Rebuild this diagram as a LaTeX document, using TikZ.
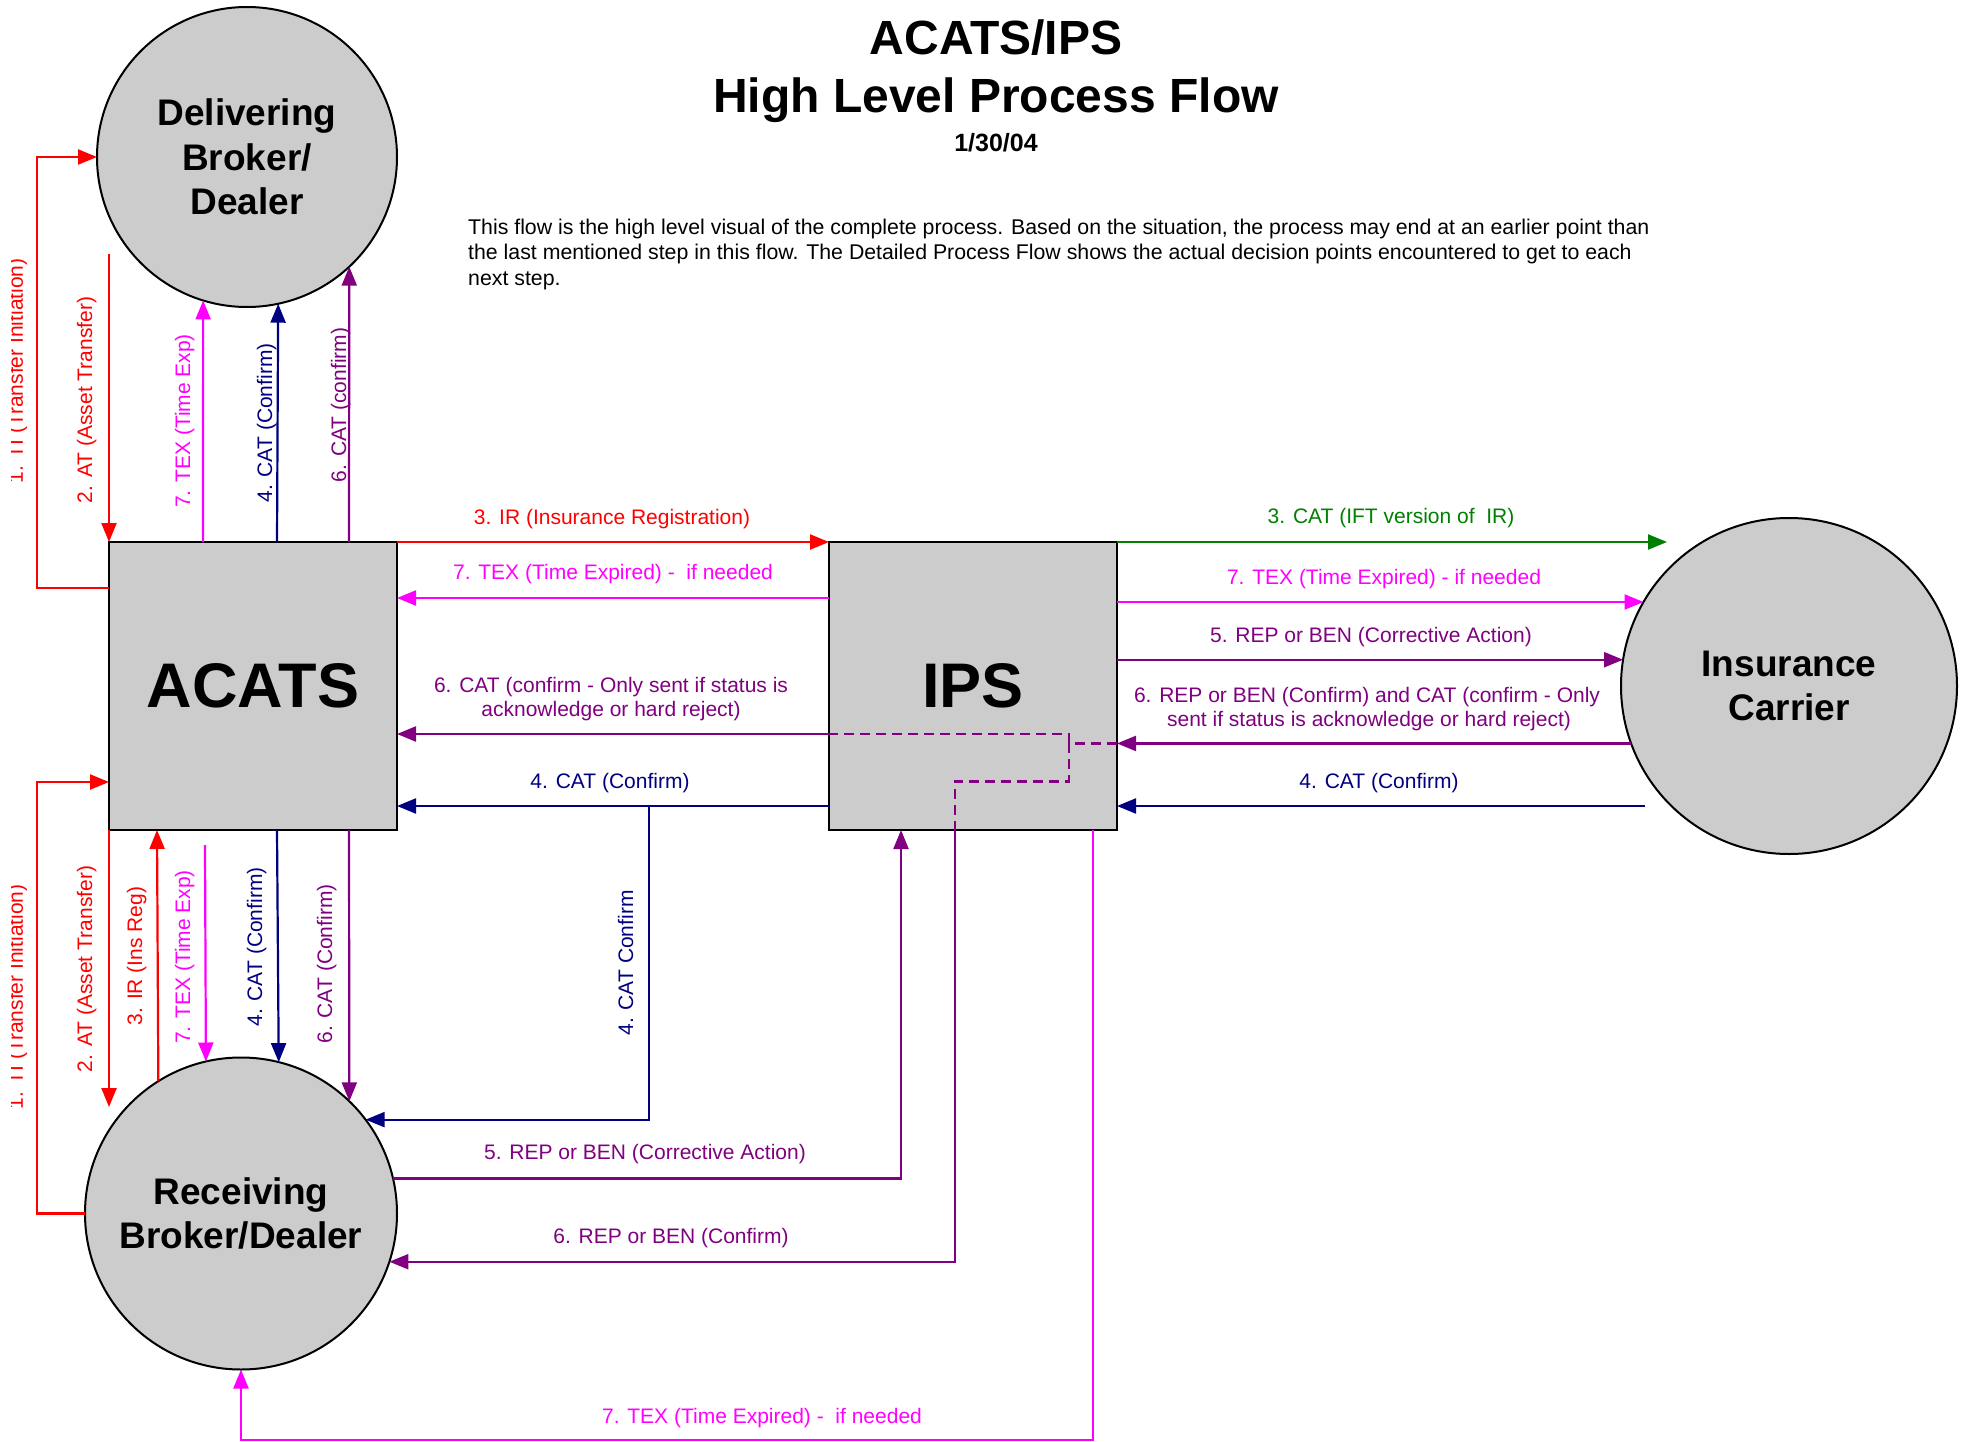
\documentclass[tikz,border=0pt]{standalone}
\usepackage{fontspec}
\setmainfont{Liberation Sans}
\usetikzlibrary{arrows.meta}
\definecolor{navyc}{RGB}{0,0,128}
\definecolor{purpc}{RGB}{128,0,128}
\definecolor{greenc}{RGB}{0,128,0}
\definecolor{magc}{RGB}{255,0,255}
\definecolor{redc}{RGB}{255,0,0}
\definecolor{boxgray}{RGB}{204,204,204}
\begin{document}
\begin{tikzpicture}[x=1pt,y=-1pt,
  conn/.style={line width=2.2pt, -{Triangle[length=19pt,width=15pt]}},
  dashline/.style={line width=2.2pt, dash pattern=on 10pt off 6pt},
  lbl/.style={font=\fontsize{21}{25}\selectfont, inner sep=0pt, anchor=base},
  vlbl/.style={lbl, rotate=90},
  sysbox/.style={draw=black, line width=2.5pt, fill=boxgray, minimum width=288pt, minimum height=288pt, inner sep=0pt, outer sep=0pt, font=\bfseries\fontsize{63}{66}\selectfont},
  party/.style={circle, draw=black, line width=2pt, fill=boxgray, inner sep=0pt, outer sep=0pt, align=center, font=\bfseries\fontsize{37}{44.5}\selectfont},
  titlefont/.style={font=\bfseries\fontsize{48}{50}\selectfont, inner sep=0pt, anchor=base},
  parafont/.style={font=\fontsize{21.3}{25}\selectfont, inner sep=0pt, anchor=base west},
]
\useasboundingbox[fill=white] (0,0) rectangle (1963,1442);

% title
\node[titlefont] (t1) at (996,55) {ACATS/IPS};
\node[titlefont] (t2) at (996,113) {High Level Process Flow};
\node[font=\bfseries\fontsize{25}{27}\selectfont, inner sep=0pt, anchor=base] (t3) at (996,152) {1/30/04};
\node[parafont] (p1) at (468,235) {This flow is the high level visual of the complete process.  Based on the situation, the process may end at an earlier point than};
\node[parafont] (p2) at (468,260) {the last mentioned step in this flow.  The Detailed Process Flow shows the actual decision points encountered to get to each};
\node[parafont] (p3) at (468,285) {next step.};

% main nodes
\node[party, minimum size=300pt] (deliv) at (247,157) {Delivering\\Broker/\\Dealer};
\node[party, minimum size=312pt] (recv) at (241,1213.5) {Receiving\\Broker/Dealer};
\node[party, minimum size=336pt] (ins) at (1789,686) {Insurance\\Carrier};
\node[sysbox] (acats) at (253,686) {ACATS};
\node[sysbox] (ips) at (973,686) {IPS};

% free ends
\coordinate (atd) at (109,254);
\coordinate (atr) at (109,1107);
\coordinate (txs) at (205,845);
\coordinate (cg) at (1667,542);
\coordinate (cn) at (1645,806);

% ---- ACATS <-> Delivering
\draw[conn, redc] ([yshift=98pt]acats.west) -- ++(-72,0) |- (deliv.west);
\draw[conn, redc] (atd) -- (acats.north west);
\draw[conn, magc] ([xshift=-50pt]acats.north) -- (deliv.-107);
\draw[conn, navyc] ([xshift=24pt]acats.north) -- (deliv.-78.5);
\draw[conn, purpc] ([xshift=96pt]acats.north) -- (deliv.-47.2);

% ---- ACATS <-> Receiving
\draw[conn, redc] (recv.west) -- ++(-48,0) |- ([yshift=-96pt]acats.west);
\draw[conn, redc] (acats.south west) -- (atr);
\draw[conn, redc] (recv.122.6) -- ([xshift=-96pt]acats.south);
\draw[conn, magc] (txs) -- (recv.103.3);
\draw[conn, navyc] ([xshift=24pt]acats.south) -- (recv.76.7);
\draw[conn, purpc] ([xshift=96pt]acats.south) -- (recv.46.7);

% ---- ACATS <-> IPS
\draw[conn, redc] (acats.north east) -- (ips.north west);
\draw[conn, magc] ([yshift=88pt]ips.west) -- ([yshift=88pt]acats.east);
\draw[conn, purpc] ([yshift=-48pt]ips.west) -- ([yshift=-48pt]acats.east);
\draw[conn, navyc] ([yshift=-120pt]ips.west) -- ([yshift=-120pt]acats.east);
\path ([yshift=-120pt]ips.west) ++(-180,0) coordinate (cbr);
\draw[conn, navyc] (cbr) |- (recv.37.7);

% ---- IPS <-> Insurance
\draw[conn, greenc] (ips.north east) -- (cg);
\draw[conn, magc] (ins.150 -| ips.east) -- (ins.150);
\draw[conn, purpc] (ins.171.1 -| ips.east) -- (ins.171.1);
\draw[conn, purpc] (ins.200.2) -- (ins.200.2 -| ips.east);
\draw[conn, navyc] (cn) -- ([yshift=-120pt]ips.east);

% dashed routing inside IPS
\draw[dashline, purpc] (ins.200.2 -| ips.east) -- ++(-48,0) coordinate (dj) |- ([yshift=-48pt]ips.west);
\draw[dashline, purpc] (dj) -- ++(0,38) -| ([xshift=-18pt]ips.south);

% ---- IPS <-> Receiving
\draw[conn, purpc] (recv.13.2) -| ([xshift=-72pt]ips.south);
\draw[conn, purpc] ([xshift=-18pt]ips.south) |- (recv.-18.1);
\draw[conn, magc] ([xshift=120pt]ips.south) -- ++(0,610) -| (recv.south);

% ---- labels: middle
\node[lbl, redc] (l1) at (612,524) {3. IR (Insurance Registration)};
\node[lbl, magc] (l2) at (613,579) {7. TEX (Time Expired) -\ \ if needed};
\node[lbl, purpc] (l3a) at (611,692) {6. CAT (confirm - Only sent if status is};
\node[lbl, purpc] (l3b) at (611,716) {acknowledge or hard reject)};
\node[lbl, navyc] (l4) at (610,788) {4. CAT (Confirm)};
% right
\node[lbl, greenc] (r1) at (1391,523) {3. CAT (IFT version of\ \ IR)};
\node[lbl, magc] (r2) at (1384,584) {7. TEX (Time Expired) - if needed};
\node[lbl, purpc] (r3) at (1371,642) {5. REP or BEN (Corrective Action)};
\node[lbl, purpc] (r4a) at (1367,702) {6. REP or BEN (Confirm) and CAT (confirm - Only};
\node[lbl, purpc] (r4b) at (1369,726) {sent if status is acknowledge or hard reject)};
\node[lbl, navyc] (r5) at (1379,788) {4. CAT (Confirm)};
% bottom
\node[lbl, purpc] (b1) at (645,1159) {5. REP or BEN (Corrective Action)};
\node[lbl, purpc] (b2) at (671,1243) {6. REP or BEN (Confirm)};
\node[lbl, magc] (b3) at (762,1423) {7. TEX (Time Expired) -\ \ if needed};

% vertical labels
\begin{scope}
\clip (11,0) rectangle (1963,1442);
\node[vlbl, redc] (v1) at (23,371) {1. TI (Transfer Initiation)};
\node[vlbl, redc] (w1) at (23,997) {1. TI (Transfer Initiation)};
\end{scope}
\node[vlbl, redc] (v2) at (92,400) {2. AT (Asset Transfer)};
\node[vlbl, magc] (v3) at (190,421) {7. TEX (Time Exp)};
\node[vlbl, navyc] (v4) at (272,423) {4. CAT (Confirm)};
\node[vlbl, purpc] (v5) at (346,405) {6. CAT (confirm)};
\node[vlbl, redc] (w2) at (92,969) {2. AT (Asset Transfer)};
\node[vlbl, redc] (w3) at (142,956) {3. IR (Ins Reg)};
\node[vlbl, magc] (w4) at (190,957) {7. TEX (Time Exp)};
\node[vlbl, navyc] (w5) at (262,947) {4. CAT (Confirm)};
\node[vlbl, purpc] (w6) at (332,964) {6. CAT (Confirm)};
\node[vlbl, navyc] (w7) at (633,963) {4. CAT Confirm};
\end{tikzpicture}
\end{document}
